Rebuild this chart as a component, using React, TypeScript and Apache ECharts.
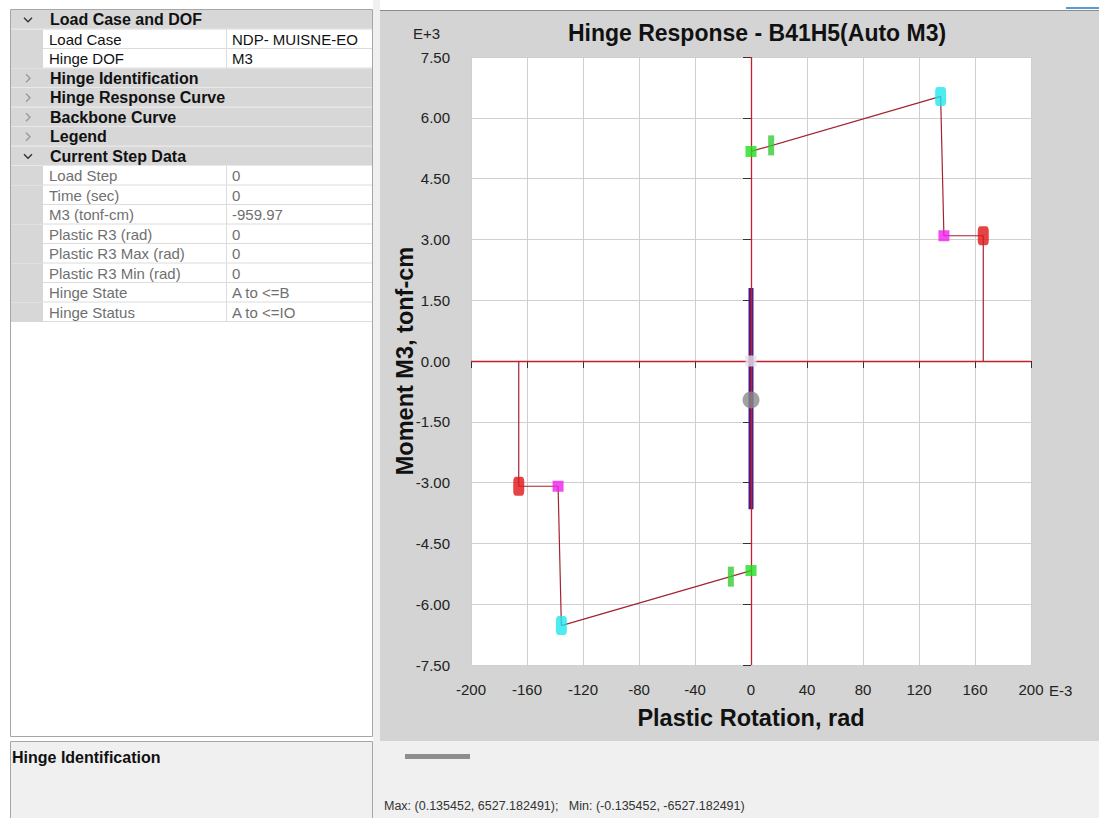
import React, { useEffect, useRef } from "react";
import * as echarts from "echarts";

const FONT = '"Liberation Sans", Arial, sans-serif';

// Axis ranges (x in E-3 rad, y in E+3 tonf-cm)
const xMin = -200;
const xMax = 200;
const xStep = 40;
const yMin = -7.5;
const yMax = 7.5;
const yStep = 1.5;

// Backbone curve (positive and negative branches)
const backbonePositive = [[0, 5.17], [135.45, 6.527], [137.8, 3.09], [165.9, 3.09], [165.9, 0]];
const backboneNegative = [[0, -5.17], [-135.45, -6.527], [-137.8, -3.09], [-165.9, -3.09], [-165.9, 0]];

// Backbone point markers
const pointsB = [[0, 5.17], [0, -5.17]];
const pointsIO = [[14.4, 5.32], [-14.4, -5.32]];
const pointsC = [[135.45, 6.527], [-135.45, -6.527]];
const pointsD = [[137.8, 3.09], [-137.8, -3.09]];
const pointsE = [[165.9, 3.09], [-165.9, -3.09]];

// Hinge response and current step
const responseRange = [[0, 1.8], [0, -3.66]];
const originPoint = [[0, 0]];
const currentStep = [[0, -0.95997]];

// Property panel
const panelLabels = [
  "Load Case and DOF", "Load Case", "Hinge DOF", "Hinge Identification",
  "Hinge Response Curve", "Backbone Curve", "Legend", "Current Step Data",
  "Load Step", "Time (sec)", "M3 (tonf-cm)", "Plastic R3 (rad)",
  "Plastic R3 Max (rad)", "Plastic R3 Min (rad)", "Hinge State", "Hinge Status",
];
const panelValues = [
  "", "NDP- MUISNE-EO", "M3", "", "", "", "", "",
  "0", "0", "-959.97", "0", "0", "0", "A to <=B", "A to <=IO",
];
const panelKinds = [
  "open", "edit", "edit", "closed", "closed", "closed", "closed", "open",
  "read", "read", "read", "read", "read", "read", "read", "read",
];

const titleText = "Hinge Response - B41H5(Auto M3)";
const xName = "Plastic Rotation, rad";
const yName = "Moment M3, tonf-cm";
const maxMinText = "Max: (0.135452, 6527.182491);   Min: (-0.135452, -6527.182491)";

function txt(x: number, y: number, text: string, o: any = {}) {
  return {
    type: "text",
    z: 20,
    x,
    y,
    rotation: o.rotation || 0,
    style: {
      text,
      fill: o.fill || "#111",
      fontSize: o.size || 13,
      fontWeight: o.weight || "normal",
      fontFamily: FONT,
      align: o.align || "left",
      verticalAlign: "middle",
      textAlign: o.align || "left",
      textVerticalAlign: "middle",
    },
  };
}

function buildGraphics() {
  const g: any[] = [];
  // left table
  g.push({ type: "rect", z: -10, shape: { x: 10.5, y: 9.5, width: 362, height: 727 }, style: { fill: "#ffffff", stroke: "#a6a6a6", lineWidth: 1 } });
  const rowH = 19.5;
  panelLabels.forEach((label, i) => {
    const top = 10 + i * rowH;
    const kind = panelKinds[i];
    const mid = top + rowH / 2;
    if (kind === "open" || kind === "closed") {
      g.push({ type: "rect", z: -9, shape: { x: 11, y: top, width: 361, height: rowH }, style: { fill: "#d7d7d7" } });
      g.push({ type: "line", z: -8, shape: { x1: 11, y1: top + rowH - 0.5, x2: 372, y2: top + rowH - 0.5 }, style: { stroke: "#e9e9e9", lineWidth: 1 } });
      if (kind === "open") {
        g.push({ type: "polyline", z: 10, shape: { points: [[24, mid - 2], [28, mid + 2], [32, mid - 2]] }, style: { stroke: "#333", lineWidth: 1.4, fill: null } });
      } else {
        g.push({ type: "polyline", z: 10, shape: { points: [[26, mid - 4], [30, mid], [26, mid + 4]] }, style: { stroke: "#9a9a9a", lineWidth: 1.4, fill: null } });
      }
      g.push(txt(50, mid, label, { size: 16, weight: "bold", fill: "#111" }));
    } else {
      g.push({ type: "rect", z: -9, shape: { x: 11, y: top, width: 32, height: rowH }, style: { fill: "#d7d7d7" } });
      g.push({ type: "line", z: -8, shape: { x1: 43, y1: top + rowH - 0.5, x2: 372, y2: top + rowH - 0.5 }, style: { stroke: "#dcdcdc", lineWidth: 1 } });
      g.push({ type: "line", z: -8, shape: { x1: 226.5, y1: top, x2: 226.5, y2: top + rowH }, style: { stroke: "#dcdcdc", lineWidth: 1 } });
      const col = kind === "edit" ? "#111" : "#707070";
      g.push(txt(49, mid, label, { size: 15, fill: col }));
      g.push(txt(232, mid, panelValues[i], { size: 15, fill: col }));
    }
  });
  // splitter
  g.push({ type: "rect", z: -10, shape: { x: 373, y: 0, width: 7, height: 818 }, style: { fill: "#f0f0f0" } });
  // bottom description box
  g.push({ type: "rect", z: -10, shape: { x: 10.5, y: 741.5, width: 362, height: 80 }, style: { fill: "#f0f0f0", stroke: "#a6a6a6", lineWidth: 1 } });
  g.push(txt(12, 757, "Hinge Identification", { size: 16, weight: "bold", fill: "#111" }));
  // right chart panel
  g.push({ type: "rect", z: -10, shape: { x: 380, y: 10, width: 719, height: 731 }, style: { fill: "#d4d4d4" } });
  g.push({ type: "line", z: -9, shape: { x1: 380, y1: 10.5, x2: 1099, y2: 10.5 }, style: { stroke: "#8c8c8c", lineWidth: 1 } });
  g.push({ type: "rect", z: -10, shape: { x: 380, y: 741, width: 719, height: 77 }, style: { fill: "#f0f0f0" } });
  g.push({ type: "line", z: -9, shape: { x1: 1066, y1: 8, x2: 1099, y2: 8 }, style: { stroke: "#5b9bd5", lineWidth: 2 } });
  g.push({ type: "rect", z: -9, shape: { x: 405, y: 754, width: 65, height: 5 }, style: { fill: "#8e8e8e" } });
  // chart texts
  g.push(txt(757, 33, titleText, { size: 23, weight: "bold", align: "center" }));
  g.push(txt(413, 33, "E+3", { size: 15, fill: "#222" }));
  g.push(txt(1049, 690, "E-3", { size: 15, fill: "#222" }));
  g.push(txt(751, 718, xName, { size: 23.5, weight: "bold", align: "center" }));
  g.push(txt(405, 361, yName, { size: 23.5, weight: "bold", align: "center", rotation: Math.PI / 2 }));
  g.push(txt(384, 806, maxMinText, { size: 12.5, fill: "#333" }));
  return g;
}

export default function App() {
  const ref = useRef<HTMLDivElement>(null);
  useEffect(() => {
    if (!ref.current) return;
    const chart = echarts.init(ref.current, null, { renderer: "svg" });
    const redLine = "#c41f2c";
    const option: any = {
      animation: false,
      backgroundColor: "#ffffff",
      textStyle: { fontFamily: FONT },
      graphic: { elements: buildGraphics() },
      grid: { left: 471, top: 57, width: 560, height: 608, show: true, backgroundColor: "#ffffff", borderWidth: 0 },
      xAxis: {
        type: "value",
        min: xMin,
        max: xMax,
        interval: xStep,
        offset: 4,
        axisLine: { show: false },
        axisTick: { show: true, length: 7, lineStyle: { color: "#333" } },
        axisLabel: { margin: 13, fontSize: 15, color: "#222", fontFamily: FONT },
        splitLine: { show: true, lineStyle: { color: "#cfcfcf", width: 1 } },
      },
      yAxis: {
        type: "value",
        min: yMin,
        max: yMax,
        interval: yStep,
        offset: 8,
        axisLine: { show: false },
        axisTick: { show: true, length: 8, lineStyle: { color: "#333" } },
        axisLabel: { margin: 13, fontSize: 15, color: "#222", fontFamily: FONT, formatter: (v: number) => v.toFixed(2) },
        splitLine: { show: true, lineStyle: { color: "#cfcfcf", width: 1 } },
      },
      series: [
        {
          type: "line",
          data: [],
          z: 3,
          color: redLine,
          itemStyle: { color: redLine },
          lineStyle: { color: redLine },
          markLine: {
            silent: true,
            symbol: ["none", "none"],
            label: { show: false },
            itemStyle: { color: redLine },
            lineStyle: { color: redLine, width: 1.3, type: "solid", opacity: 1 },
            emphasis: { disabled: true },
            data: [{ xAxis: 0 }, { yAxis: 0 }],
          },
        },
        { type: "line", data: backbonePositive, showSymbol: false, symbol: "none", lineStyle: { color: "#a3232f", width: 1.2 }, z: 3 },
        { type: "line", data: backboneNegative, showSymbol: false, symbol: "none", lineStyle: { color: "#a3232f", width: 1.2 }, z: 3 },
        { type: "line", data: responseRange, showSymbol: false, symbol: "none", lineStyle: { color: "#4b1c84", width: 5 }, z: 4 },
        { type: "scatter", data: originPoint, symbol: "rect", symbolSize: 11, itemStyle: { color: "#e5e0ee" }, z: 5 },
        { type: "scatter", data: pointsB, symbol: "rect", symbolSize: [11, 11], itemStyle: { color: "#22dd22" }, z: 6 },
        { type: "scatter", data: pointsIO, symbol: "rect", symbolSize: [6, 20], itemStyle: { color: "#33cc33" }, z: 6 },
        { type: "scatter", data: pointsC, symbol: "roundRect", symbolSize: [11, 19], itemStyle: { color: "#22e6ee" }, z: 6 },
        { type: "scatter", data: pointsD, symbol: "rect", symbolSize: [11, 11], itemStyle: { color: "#ee22ee" }, z: 6 },
        { type: "scatter", data: pointsE, symbol: "roundRect", symbolSize: [11, 19], itemStyle: { color: "#e01515" }, z: 6 },
        { type: "scatter", data: currentStep, symbol: "circle", symbolSize: 17, itemStyle: { color: "#8a8a8a" }, z: 7 },
      ],
    };
    chart.setOption(option);
    return () => chart.dispose();
  }, []);
  return <div ref={ref} style={{ position: "absolute", left: 0, top: 0, width: 1099, height: 818 }} />;
}
